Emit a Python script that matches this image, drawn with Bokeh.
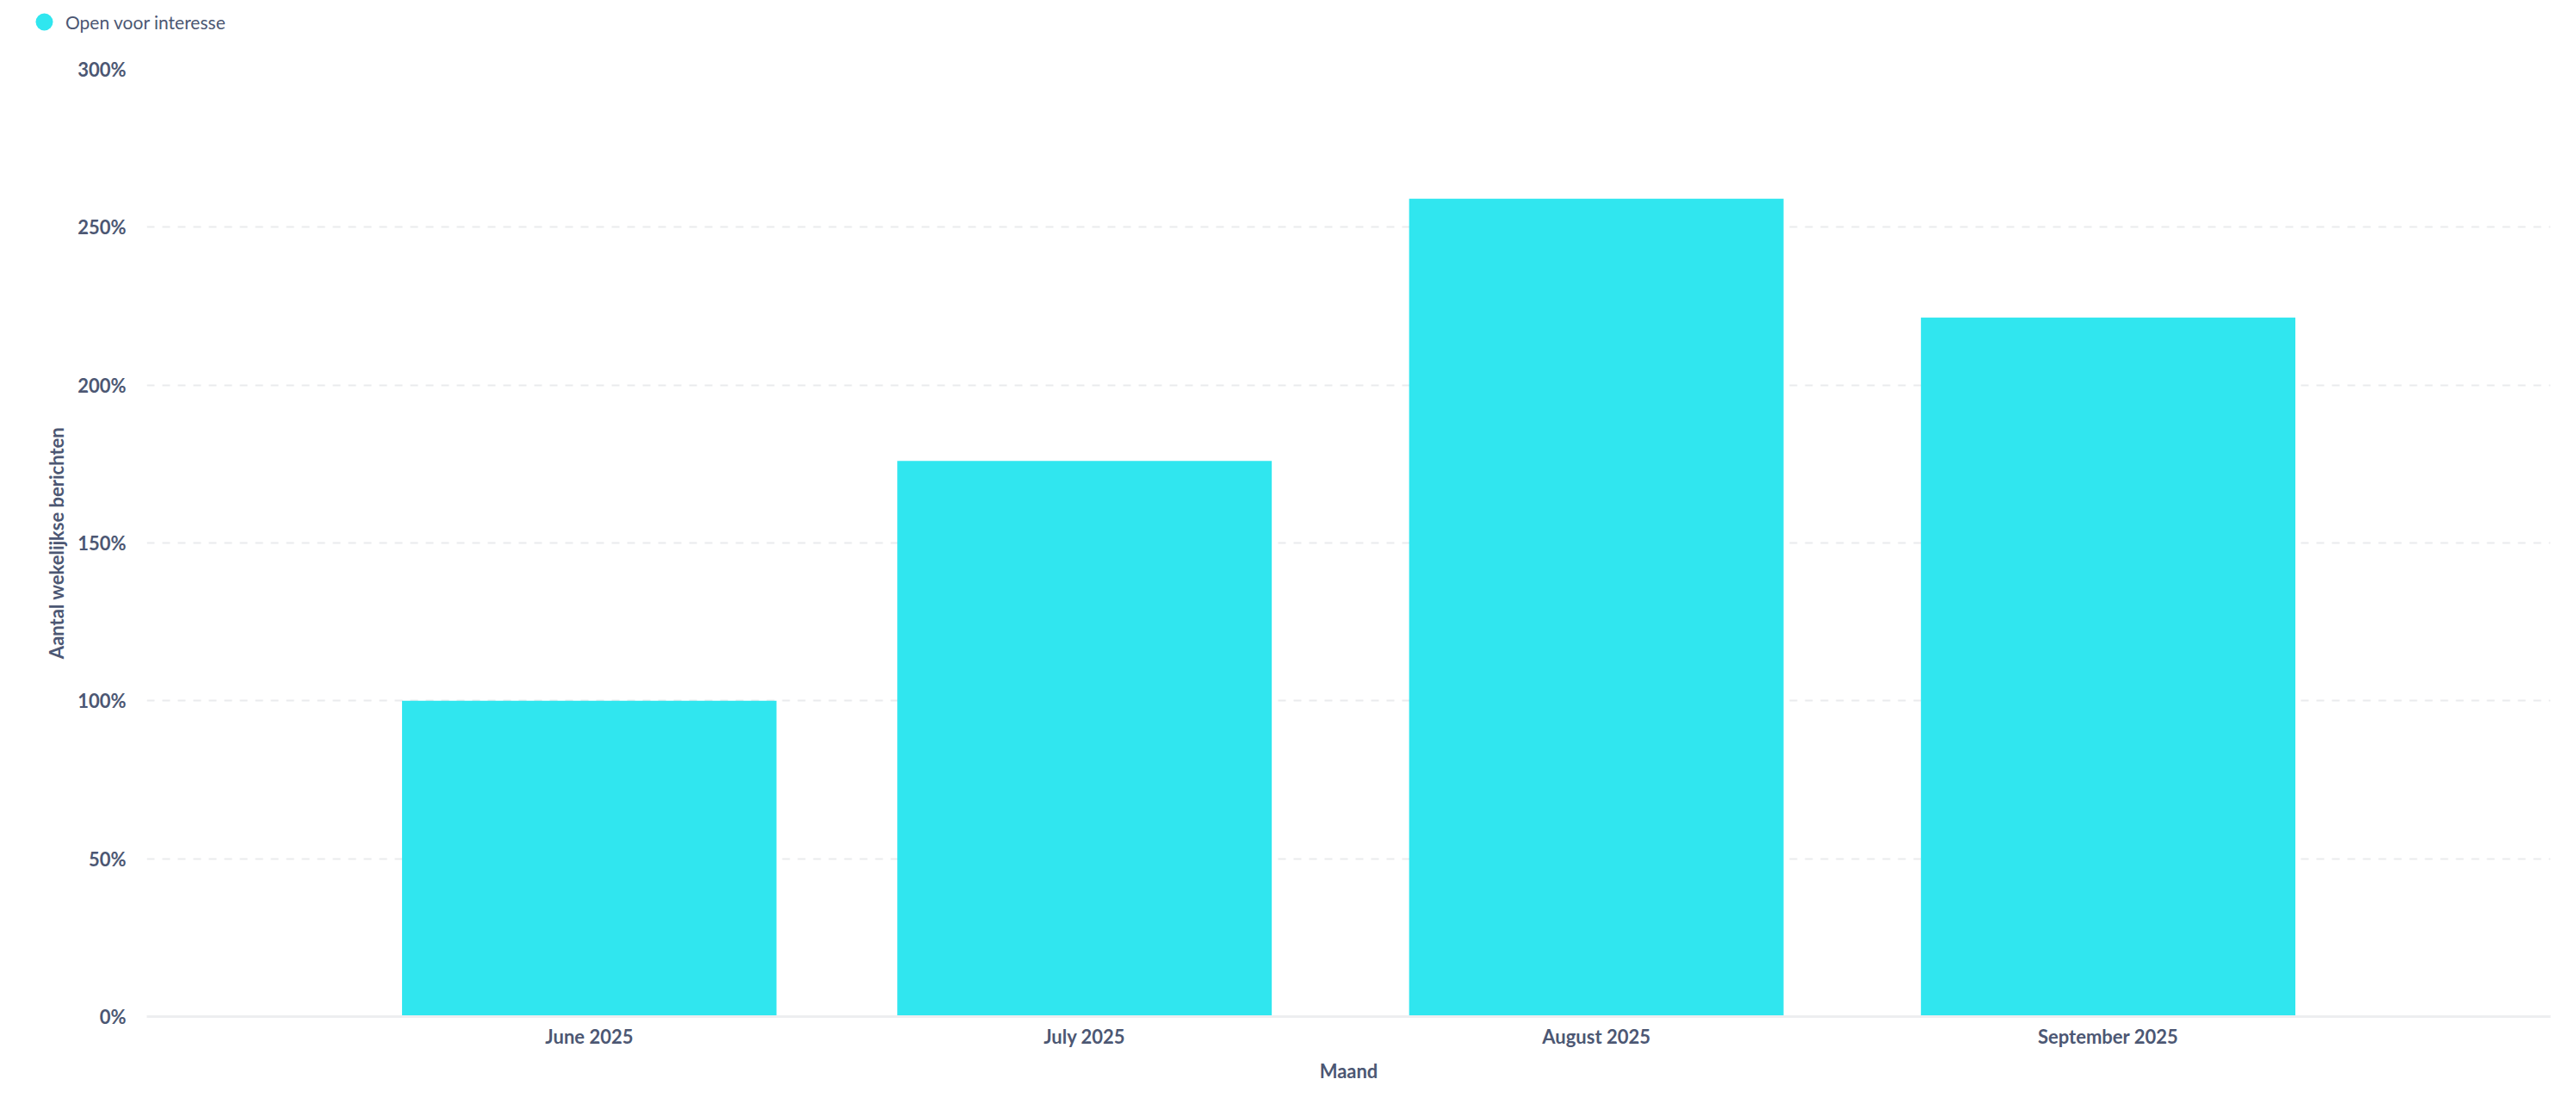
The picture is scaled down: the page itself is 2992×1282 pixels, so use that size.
import pandas as pd
from bokeh.plotting import figure
from bokeh.layouts import column
from bokeh.models import (Range1d, FixedTicker, NumeralTickFormatter, DatetimeTickFormatter,
                          Legend, LegendItem, ColumnDataSource)
from bokeh.embed import file_html
from bokeh.resources import INLINE

# ---- data ----
months = ["2025-06-01", "2025-07-01", "2025-08-01", "2025-09-01"]
open_voor_interesse = [1.00, 1.76, 2.59, 2.214]
y_ticks = [0, 0.5, 1.0, 1.5, 2.0, 2.5, 3.0]
series_name = "Open voor interesse"
x_title = "Maand"
y_title = "Aantal wekelijkse berichten"

# ---- styling ----
BAR = "#30E6EF"
TXT = "#4C5773"
GRID = "#EAEBED"
FONT = "Lato"
DAY = 86400000
W = 2976
LEG_H = 52
MAIN_H = 1266 - LEG_H

dates = pd.to_datetime(months)
src = ColumnDataSource(dict(month=dates, value=open_voor_interesse))

# ---- legend strip ----
lf = figure(width=W, height=LEG_H, output_backend="svg", toolbar_location=None,
            x_axis_location=None, y_axis_location=None,
            min_border_left=0, min_border_right=0, min_border_top=0, min_border_bottom=0)
lf.frame_align = False
lf.outline_line_color = None
lf.xgrid.visible = False
lf.ygrid.visible = False
dot = lf.scatter(x="month", y="value", source=src, marker="circle", size=0,
                 fill_color=BAR, line_color=None)
legend = Legend(items=[LegendItem(label=series_name, renderers=[dot])],
                location=(26, 2), orientation="horizontal",
                glyph_width=50, glyph_height=50, label_standoff=0,
                padding=0, margin=0, spacing=0,
                border_line_color=None, background_fill_alpha=0,
                label_text_font=FONT, label_text_font_size="21px",
                label_text_color=TXT)
lf.add_layout(legend)

# ---- main chart ----
x_start = dates[0] - pd.Timedelta(days=26.8)
x_end = dates[-1] + pd.Timedelta(days=26.8)

p = figure(width=W, height=MAIN_H, x_axis_type="datetime",
           output_backend="svg", toolbar_location=None,
           x_range=Range1d(x_start, x_end), y_range=Range1d(0, 3.0),
           min_border_left=170, min_border_right=14, min_border_top=80 - LEG_H,
           min_border_bottom=86)
p.frame_align = False
p.outline_line_color = None
p.background_fill_color = "white"
p.border_fill_color = "white"

p.vbar(x="month", top="value", bottom=0, width=22.68 * DAY, source=src,
       fill_color=BAR, line_color=None)

# x axis
xa = p.xaxis[0]
xa.ticker = FixedTicker(ticks=[d.value // 10**6 for d in dates])
fmt = "%B %Y"
xa.formatter = DatetimeTickFormatter(microseconds=fmt, milliseconds=fmt, seconds=fmt,
                                     minsec=fmt, minutes=fmt, hourmin=fmt, hours=fmt,
                                     days=fmt, months=fmt, years=fmt)
xa.major_tick_line_color = None
xa.minor_tick_line_color = None
xa.axis_line_color = "#EDEEF0"
xa.axis_line_width = 3
xa.major_label_text_font = FONT
xa.major_label_text_font_size = "22px"
xa.major_label_text_font_style = "bold"
xa.major_label_text_color = TXT
xa.major_label_standoff = 3
xa.axis_label = x_title
xa.axis_label_text_font = FONT
xa.axis_label_text_font_size = "22px"
xa.axis_label_text_font_style = "bold"
xa.axis_label_text_color = TXT
xa.axis_label_standoff = 10

# y axis
ya = p.yaxis[0]
ya.ticker = FixedTicker(ticks=y_ticks)
ya.formatter = NumeralTickFormatter(format="0%")
ya.major_tick_line_color = None
ya.minor_tick_line_color = None
ya.axis_line_color = None
ya.major_label_text_font = FONT
ya.major_label_text_font_size = "22px"
ya.major_label_text_font_style = "bold"
ya.major_label_text_color = TXT
ya.major_label_standoff = 18
ya.axis_label = y_title
ya.axis_label_text_font = FONT
ya.axis_label_text_font_size = "22px"
ya.axis_label_text_font_style = "bold"
ya.axis_label_text_color = TXT
ya.axis_label_standoff = 8

p.xgrid.grid_line_color = None
p.ygrid.ticker = FixedTicker(ticks=y_ticks)
p.ygrid.grid_line_color = GRID
p.ygrid.grid_line_width = 2
p.ygrid.grid_line_dash = "9 9"

layout = column(lf, p, spacing=0)
open("out.html", "w").write(file_html(layout, INLINE))
